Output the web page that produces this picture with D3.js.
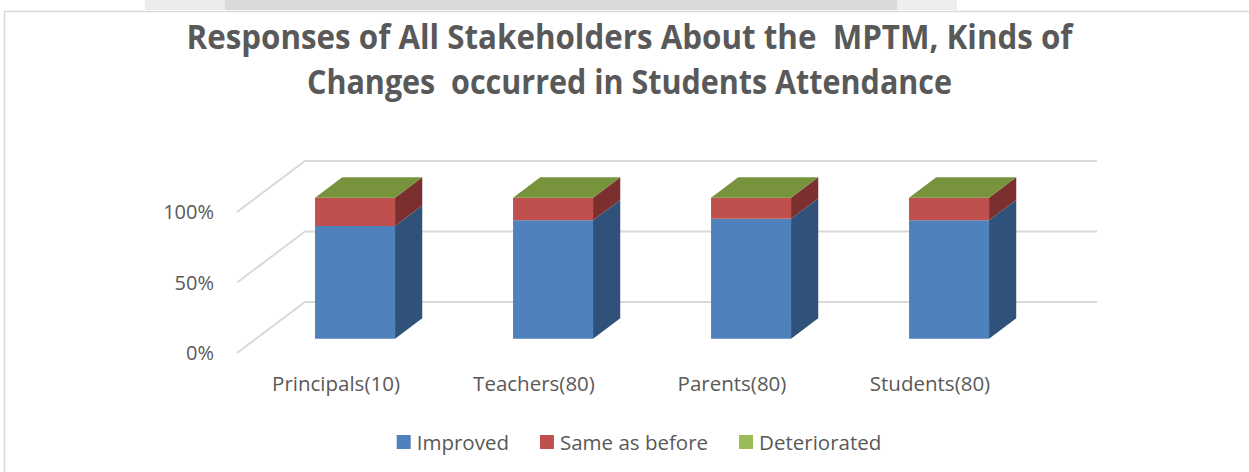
<!DOCTYPE html>
<html>
<head>
<meta charset="utf-8">
<script src="https://cdn.jsdelivr.net/npm/d3@7"></script>
<style>
  html, body { margin: 0; padding: 0; background: #fff; }
  svg { display: block; }
  text { font-family: "Open Sans", "Noto Sans", sans-serif; }
</style>
</head>
<body>
<svg id="chart" width="1249" height="472"></svg>
<script>
// ---- data ----
const categories = ["Principals(10)", "Teachers(80)", "Parents(80)", "Students(80)"];
const seriesNames = ["Improved", "Same as before", "Deteriorated"];
const improved = [80, 84, 85, 84];
const sameAsBefore = [20, 16, 15, 16];
const deteriorated = [0, 0, 0, 0];
const yTicks = [0, 0.5, 1];
const titleLines = ["Responses of All Stakeholders About the  MPTM, Kinds of", "Changes  occurred in Students Attendance"];

// ---- styles ----
const frontColors = ["#4f81bd", "#c0504d", "#9bbb59"];
const sideColors = ["#30527a", "#7b2f2e", "#637a38"];
const topColors = ["#3f6896", "#9b3f3d", "#77933c"];
const gridColor = "#d9d9d9";
const textColor = "#595959";

const svg = d3.select("#chart");

// background watermark band at top + chart border
svg.append("rect").attr("x", 145).attr("y", 0).attr("width", 80).attr("height", 10).attr("fill", "#ececec");
svg.append("rect").attr("x", 225).attr("y", 0).attr("width", 672).attr("height", 10).attr("fill", "#dadada");
svg.append("rect").attr("x", 897).attr("y", 0).attr("width", 60).attr("height", 10).attr("fill", "#eeeeee");
svg.append("line").attr("x1", 4).attr("x2", 1249).attr("y1", 11.5).attr("y2", 11.5).attr("stroke", "#d9d9d9").attr("stroke-width", 1.5);
svg.append("line").attr("x1", 4.5).attr("x2", 4.5).attr("y1", 11).attr("y2", 472).attr("stroke", "#d9d9d9").attr("stroke-width", 1.5);

// title
const titleG = svg.append("g");
const titleY = [49, 94];
const titleLen = [886, 645];
titleLines.forEach((t, i) => {
  titleG.append("text")
    .attr("x", 629.5).attr("y", titleY[i])
    .attr("text-anchor", "middle")
    .attr("font-size", 34)
    .attr("font-weight", 700)
    .attr("fill", textColor)
    .style("white-space", "pre")
    .attr("textLength", titleLen[i])
    .attr("lengthAdjust", "spacingAndGlyphs")
    .text(t);
});

// ---- scales (front plane) ----
const x = d3.scaleBand().domain(categories).range([237, 1029]);
const y = d3.scaleLinear().domain([0, 1]).range([353, 212]);
const DX = 68, DY = -51; // depth projection of full depth
const proj = (px, v, z) => [px + z * DX, y(v) + z * DY];

// gridlines: back wall + left side wall
const grid = svg.append("g").attr("stroke", gridColor).attr("stroke-width", 2).attr("fill", "none");
yTicks.forEach(v => {
  const a = proj(x.range()[0], v, 0), b = proj(x.range()[0], v, 1), c = proj(x.range()[1], v, 1);
  grid.append("path").attr("d", `M${a[0]},${a[1]}L${b[0]},${b[1]}L${c[0]},${c[1]}`);
});

// y axis labels
const fmt = d3.format(".0%");
svg.append("g").selectAll("text").data(yTicks).join("text")
  .attr("x", 214).attr("y", d => y(d))
  .attr("dy", "0.36em")
  .attr("text-anchor", "end")
  .attr("font-size", 20)
  .attr("fill", textColor)
  .text(d => fmt(d));

// category labels
svg.append("g").selectAll("text").data(categories).join("text")
  .attr("x", d => x(d) + x.bandwidth() / 2)
  .attr("y", 391)
  .attr("text-anchor", "middle")
  .attr("font-size", 20.5)
  .attr("fill", textColor)
  .text(d => d);

// stacked data
const rows = categories.map((c, i) => ({ cat: c, s0: improved[i], s1: sameAsBefore[i], s2: deteriorated[i] }));
const stack = d3.stack().keys(["s0", "s1", "s2"]).offset(d3.stackOffsetExpand);
const stacked = stack(rows);

// bars as 3D boxes
const barW = 0.404 * x.bandwidth();
const z0 = 0.28, z1 = 0.68;
const bars = svg.append("g");
const poly = pts => "M" + pts.map(p => p.join(",")).join("L") + "Z";
categories.forEach((cat, ci) => {
  const cx = x(cat) + x.bandwidth() / 2;
  const xl = cx - barW / 2, xr = cx + barW / 2;
  stacked.forEach((layer, si) => {
    const [v0, v1] = layer[ci];
    bars.append("path").attr("fill", sideColors[si])
      .attr("d", poly([proj(xr, v0, z0), proj(xr, v0, z1), proj(xr, v1, z1), proj(xr, v1, z0)]));
    bars.append("path").attr("fill", frontColors[si])
      .attr("d", poly([proj(xl, v0, z0), proj(xr, v0, z0), proj(xr, v1, z0), proj(xl, v1, z0)]));
  });
  const si = stacked.length - 1;
  const vt = stacked[si][ci][1];
  bars.append("path").attr("fill", topColors[si])
    .attr("d", poly([proj(xl, vt, z0), proj(xr, vt, z0), proj(xr, vt, z1), proj(xl, vt, z1)]));
});

// legend
const legend = svg.append("g");
const items = [];
seriesNames.forEach((name, i) => {
  const g = legend.append("g");
  g.append("rect").attr("x", 0).attr("y", 435).attr("width", 14).attr("height", 14).attr("fill", frontColors[i]);
  const t = g.append("text").attr("x", 20).attr("y", 449.5).attr("font-size", 20.5).attr("fill", textColor).text(name);
  items.push({ g, w: 20 + t.node().getComputedTextLength() });
});
const gap = 31;
const total = d3.sum(items, d => d.w) + gap * (items.length - 1);
let lx = 639 - total / 2;
items.forEach(it => { it.g.attr("transform", `translate(${lx},0)`); lx += it.w + gap; });
</script>
</body>
</html>
